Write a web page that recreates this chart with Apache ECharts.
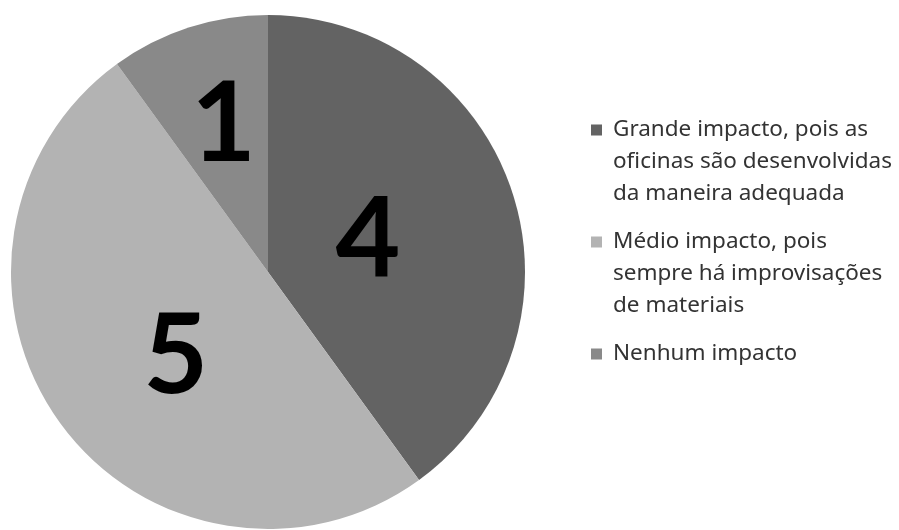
<!DOCTYPE html>
<html>
<head>
<meta charset="utf-8">
<script src="https://cdn.jsdelivr.net/npm/echarts@6/dist/echarts.min.js"></script>
<style>
  html, body { margin: 0; padding: 0; background: #ffffff; }
  #chart { width: 899px; height: 530px; }
</style>
</head>
<body>
<div id="chart"></div>
<script>
// Survey answers: perceived impact of the workshops
var categories = [
  'Grande impacto, pois as\noficinas são desenvolvidas\nda maneira adequada',
  'Médio impacto, pois\nsempre há improvisações\nde materiais',
  'Nenhum impacto'
];
var counts = [4, 5, 1];
var sliceColors = ['#636363', '#b3b3b3', '#898989'];

// Small nudges for the big in-slice numbers
var labelNudge = [[-25, 10], [14, 8], [-4, -22]];

// Legend marker: an 11px square sitting on the first text line of a 3-line item
var markerPath = 'path://M0,0h0.01v0.01h-0.01z M0,10.5h11v11h-11z M16.99,95.99h0.01v0.01h-0.01z';

// Pad every legend entry to three lines so all items share the same height
function padLines(s) {
  var n = s.split('\n').length;
  while (n < 3) { s += '\n '; n++; }
  return s;
}

var chart = echarts.init(document.getElementById('chart'), null, { renderer: 'canvas' });

chart.setOption({
  backgroundColor: '#ffffff',
  animation: false,
  color: sliceColors,
  legend: {
    orient: 'vertical',
    left: 591,
    top: 114,
    padding: 0,
    itemWidth: 17,
    itemHeight: 96,
    itemGap: 16,
    icon: markerPath,
    selectedMode: false,
    itemStyle: { borderWidth: 0 },
    formatter: function (name) { return padLines(name); },
    textStyle: {
      fontFamily: 'Noto Sans',
      fontSize: 22.5,
      lineHeight: 32,
      color: '#333333',
      padding: [0, 0, 0, 0]
    },
    data: categories
  },
  series: [{
    type: 'pie',
    center: [268, 272],
    radius: [0, 257],
    startAngle: 90,
    clockwise: true,
    silent: true,
    itemStyle: { borderWidth: 0 },
    emphasis: { disabled: true },
    label: {
      show: true,
      position: 'inside',
      formatter: '{c}',
      fontFamily: 'Lato',
      fontWeight: 'bold',
      fontSize: 112,
      color: '#000000'
    },
    labelLine: { show: false },
    labelLayout: function (p) {
      var d = labelNudge[p.dataIndex];
      return { dx: d[0], dy: d[1] };
    },
    data: categories.map(function (c, i) {
      return { name: c, value: counts[i] };
    })
  }]
});
</script>
</body>
</html>
